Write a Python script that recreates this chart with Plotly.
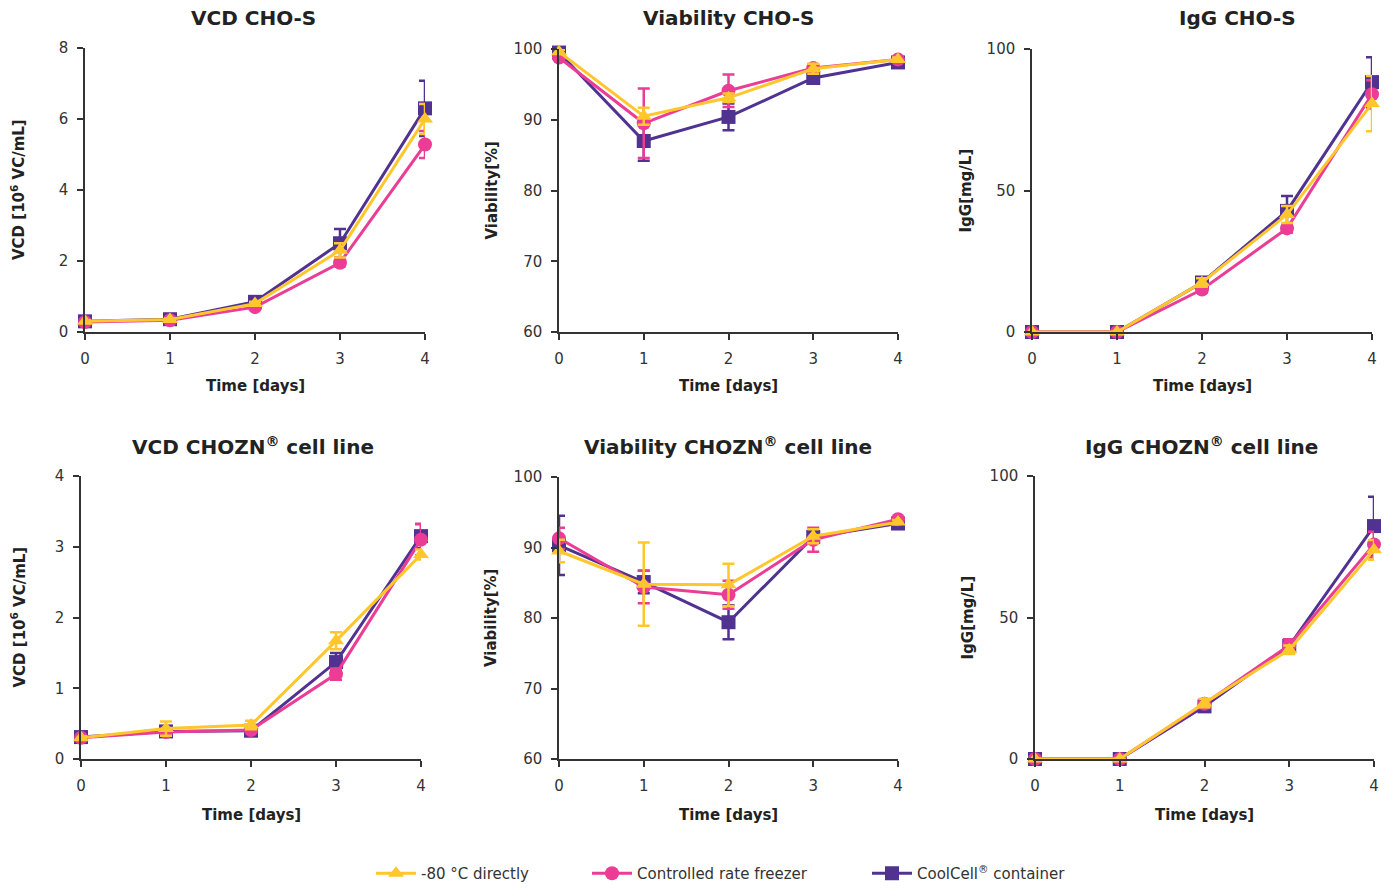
import plotly.graph_objects as go

days = [0, 1, 2, 3, 4]

series_names = ["-80 °C directly", "Controlled rate freezer", "CoolCell<sup>®</sup> container"]
series_colors = ["#FFC72C", "#EB3C96", "#503291"]
series_symbols = ["triangle-up", "circle", "square"]

# VCD CHO-S  [10^6 VC/mL]
vcd_s_m80 = [0.30, 0.35, 0.80, 2.30, 6.00]
vcd_s_m80_err = [0.03, 0.03, 0.05, 0.20, 0.42]
vcd_s_crf = [0.28, 0.33, 0.70, 1.95, 5.28]
vcd_s_crf_err = [0.02, 0.02, 0.04, 0.10, 0.38]
vcd_s_cc = [0.30, 0.36, 0.85, 2.50, 6.30]
vcd_s_cc_err = [0.03, 0.04, 0.08, 0.40, 0.78]

# Viability CHO-S [%]
via_s_m80 = [99.6, 90.5, 93.1, 97.2, 98.5]
via_s_m80_err = [0.3, 1.2, 0.6, 0.7, 0.3]
via_s_crf = [98.8, 89.5, 94.1, 97.3, 98.5]
via_s_crf_err = [0.4, 4.9, 2.3, 0.5, 0.3]
via_s_cc = [99.5, 87.0, 90.4, 95.9, 98.1]
via_s_cc_err = [0.5, 2.8, 1.9, 0.4, 0.3]

# IgG CHO-S [mg/L]
igg_s_m80 = [0, 0, 17.5, 41.5, 80.7]
igg_s_m80_err = [0, 0, 1.5, 3.0, 9.8]
igg_s_crf = [0, 0, 15.0, 36.6, 84.0]
igg_s_crf_err = [0, 0, 1.0, 1.5, 5.0]
igg_s_cc = [0, 0, 17.5, 42.8, 88.3]
igg_s_cc_err = [0, 0, 1.5, 5.3, 8.8]

# VCD CHOZN
vcd_z_m80 = [0.30, 0.43, 0.48, 1.67, 2.89]
vcd_z_m80_err = [0.02, 0.10, 0.06, 0.12, 0.07]
vcd_z_crf = [0.30, 0.38, 0.41, 1.20, 3.10]
vcd_z_crf_err = [0.02, 0.03, 0.03, 0.08, 0.22]
vcd_z_cc = [0.31, 0.39, 0.40, 1.37, 3.15]
vcd_z_cc_err = [0.02, 0.03, 0.03, 0.13, 0.17]

# Viability CHOZN
via_z_m80 = [89.5, 84.8, 84.7, 91.6, 93.6]
via_z_m80_err = [1.6, 5.9, 3.0, 1.0, 0.3]
via_z_crf = [91.3, 84.4, 83.3, 91.1, 94.0]
via_z_crf_err = [1.5, 2.3, 2.0, 1.7, 0.3]
via_z_cc = [90.3, 85.1, 79.4, 91.5, 93.4]
via_z_cc_err = [4.2, 1.6, 2.4, 0.8, 0.3]

# IgG CHOZN
igg_z_m80 = [0, 0, 19.8, 38.6, 73.9]
igg_z_m80_err = [0, 0, 1.5, 1.5, 3.5]
igg_z_crf = [0, 0, 19.5, 40.2, 75.8]
igg_z_crf_err = [0, 0, 1.5, 2.0, 4.5]
igg_z_cc = [0, 0, 18.6, 40.0, 82.3]
igg_z_cc_err = [0, 0, 1.0, 2.2, 10.4]

panel_titles = ["VCD CHO-S", "Viability CHO-S", "IgG CHO-S",
                "VCD CHOZN<sup>®</sup> cell line", "Viability CHOZN<sup>®</sup> cell line",
                "IgG CHOZN<sup>®</sup> cell line"]
y_titles = ["VCD [10<sup>6</sup> VC/mL]", "Viability[%]", "IgG[mg/L]",
            "VCD [10<sup>6</sup> VC/mL]", "Viability[%]", "IgG[mg/L]"]
x_title = "Time [days]"
y_ranges = [(0, 8, 2), (60, 100, 10), (0, 100, 50), (0, 4, 1), (60, 100, 10), (0, 100, 50)]

panel_data = [
    [(vcd_s_m80, vcd_s_m80_err), (vcd_s_crf, vcd_s_crf_err), (vcd_s_cc, vcd_s_cc_err)],
    [(via_s_m80, via_s_m80_err), (via_s_crf, via_s_crf_err), (via_s_cc, via_s_cc_err)],
    [(igg_s_m80, igg_s_m80_err), (igg_s_crf, igg_s_crf_err), (igg_s_cc, igg_s_cc_err)],
    [(vcd_z_m80, vcd_z_m80_err), (vcd_z_crf, vcd_z_crf_err), (vcd_z_cc, vcd_z_cc_err)],
    [(via_z_m80, via_z_m80_err), (via_z_crf, via_z_crf_err), (via_z_cc, via_z_cc_err)],
    [(igg_z_m80, igg_z_m80_err), (igg_z_crf, igg_z_crf_err), (igg_z_cc, igg_z_cc_err)],
]

W, H = 1393, 890


def px(xp):
    return xp / W


def py(yp):
    return 1 - yp / H


# plot areas in page pixels: (x0, x1, ytop, ybottom)
boxes = [(85, 425, 48, 332), (559, 898, 49, 332), (1032, 1372, 49, 332),
         (81, 421, 476, 759), (559, 898, 477, 759), (1035, 1374, 476, 759)]
ytitle_x = [18, 491, 965, 18, 491, 967]
title_cx = [253, 728, 1237, 253, 728, 1201]

FONT = "DejaVu Sans"
TXT = "#333333"

fig = go.Figure()
layout = dict(width=W, height=H, margin=dict(l=0, r=0, t=0, b=0, pad=0), autosize=False,
              paper_bgcolor="white", plot_bgcolor="white",
              font=dict(family=FONT, color=TXT, size=15), annotations=[])

order = [2, 1, 0]  # draw CoolCell first, then CRF, -80 on top
legend_ids = ["legend", "legend2", "legend3"]
for p in range(6):
    ax = "" if p == 0 else str(p + 1)
    for s in order:
        y, e = panel_data[p][s]
        fig.add_trace(go.Scatter(
            x=days, y=y, mode="lines+markers",
            name=series_names[s], legend=legend_ids[s], showlegend=(p == 0),
            line=dict(color=series_colors[s], width=3),
            marker=dict(symbol=series_symbols[s], size=14, color=series_colors[s]),
            error_y=dict(type="data", array=e, visible=True, color=series_colors[s],
                         thickness=2.5, width=6),
            cliponaxis=False, xaxis="x" + ax, yaxis="y" + ax))
    x0, x1, yt, yb = boxes[p]
    lo, hi, dt = y_ranges[p]
    layout["xaxis" + ax] = dict(domain=[px(x0), px(x1)], anchor="y" + ax, range=[0, 4],
                                tickvals=days, ticks="outside", ticklen=6, tickwidth=1.5,
                                tickcolor=TXT, showline=True, linecolor=TXT, linewidth=1.5,
                                showgrid=False, zeroline=False, tickfont=dict(size=15, color=TXT),
                                ticklabelstandoff=6, fixedrange=True, automargin=False)
    layout["yaxis" + ax] = dict(domain=[py(yb), py(yt)], anchor="x" + ax, range=[lo, hi],
                                dtick=dt, tick0=lo, ticks="outside", ticklen=6, tickwidth=1.5,
                                tickcolor=TXT, showline=True, linecolor=TXT, linewidth=1.5,
                                showgrid=False, zeroline=False, tickfont=dict(size=15, color=TXT),
                                ticklabelstandoff=6, fixedrange=True, automargin=False)
    cx = (x0 + x1) / 2
    top_y = 18 if p < 3 else 446
    xt_off = 54 if p < 3 else 56
    layout["annotations"].append(dict(text=panel_titles[p], x=px(title_cx[p]), y=py(top_y),
                                      xref="paper", yref="paper", showarrow=False,
                                      xanchor="center", yanchor="middle",
                                      font=dict(size=20, color="#222222", family=FONT, weight="bold")))
    layout["annotations"].append(dict(text=x_title, x=px(cx), y=py(yb + xt_off),
                                      xref="paper", yref="paper", showarrow=False,
                                      xanchor="center", yanchor="middle",
                                      font=dict(size=15, color="#222222", family=FONT, weight="bold")))
    layout["annotations"].append(dict(text=y_titles[p], x=px(ytitle_x[p]), y=py((yt + yb) / 2),
                                      xref="paper", yref="paper", showarrow=False, textangle=-90,
                                      xanchor="center", yanchor="middle",
                                      font=dict(size=15, color="#222222", family=FONT, weight="bold")))

leg_x = [371, 587, 867]
for i, lid in enumerate(legend_ids):
    layout[lid] = dict(x=px(leg_x[i]), y=0, xanchor="left", yanchor="bottom",
                       orientation="h", bgcolor="rgba(0,0,0,0)", borderwidth=0,
                       font=dict(size=15, color=TXT, family=FONT), itemwidth=40)

fig.update_layout(**layout)
fig.write_html("out.html", config={"displayModeBar": False},
               post_script="document.body.style.margin='0';document.body.style.overflow='hidden';")
